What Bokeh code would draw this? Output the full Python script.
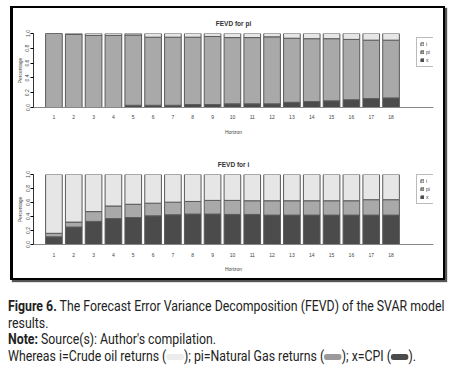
from bokeh.plotting import figure
from bokeh.models import Range1d, FixedTicker, Legend, LegendItem, Div, ColumnDataSource, PrintfTickFormatter
from bokeh.layouts import column
from bokeh.embed import file_html
from bokeh.resources import INLINE

horizon = list(range(1, 19))
y_ticks = [0.0, 0.2, 0.4, 0.6, 0.8, 1.0]

# FEVD for pi
pi_x = [0.0, 0.0, 0.0, 0.0, 0.03, 0.03, 0.03, 0.04, 0.04, 0.05, 0.05, 0.05, 0.07, 0.08, 0.09, 0.105, 0.12, 0.13]
pi_pi = [1.0, 0.987, 0.975, 0.975, 0.95, 0.92, 0.92, 0.91, 0.92, 0.895, 0.895, 0.905, 0.866, 0.85, 0.84, 0.815, 0.79, 0.78]
pi_i = [0.0, 0.013, 0.025, 0.025, 0.02, 0.05, 0.05, 0.05, 0.04, 0.055, 0.055, 0.045, 0.064, 0.07, 0.07, 0.08, 0.09, 0.09]

# FEVD for i
i_x = [0.11, 0.25, 0.33, 0.37, 0.385, 0.41, 0.425, 0.435, 0.435, 0.43, 0.43, 0.42, 0.42, 0.42, 0.42, 0.42, 0.42, 0.42]
i_pi = [0.05, 0.07, 0.14, 0.18, 0.19, 0.18, 0.18, 0.18, 0.195, 0.20, 0.195, 0.205, 0.205, 0.205, 0.205, 0.205, 0.22, 0.22]
i_i = [0.84, 0.68, 0.53, 0.45, 0.425, 0.41, 0.395, 0.385, 0.37, 0.37, 0.375, 0.375, 0.375, 0.375, 0.375, 0.375, 0.36, 0.36]

series = ["x", "pi", "i"]
legend_order = ["i", "pi", "x"]
COL = {"x": "#4b4b4b", "pi": "#a9a9a9", "i": "#e6e6e6"}
FONT = "Liberation Sans"


def panel(title, xs, pis, iss, h, top, bottom, lab_standoff, ax_standoff):
    src = ColumnDataSource(dict(h=horizon, x=xs, pi=pis, i=iss))
    p = figure(width=430, height=h, output_backend="svg", toolbar_location=None,
               x_range=Range1d(-0.03, 20.14), y_range=Range1d(0, 1),
               min_border_left=18, min_border_right=10, min_border_top=top,
               min_border_bottom=bottom, background_fill_color="white",
               border_fill_color="white", outline_line_color=None)
    rs = p.vbar_stack(series, x="h", width=0.84, source=src,
                      fill_color=[COL[s] for s in series], line_color="#5a5a5a", line_width=1)
    p.title.text = title
    p.title.align = "center"
    p.title.text_font = FONT
    p.title.text_font_size = "6.5px"
    p.title.text_font_style = "bold"
    p.title.text_color = "#333333"
    p.title.standoff = 14
    p.grid.visible = False

    ya = p.yaxis[0]
    ya.ticker = FixedTicker(ticks=y_ticks)
    ya.formatter = PrintfTickFormatter(format="%.1f")
    ya.major_label_orientation = "vertical"
    ya.major_label_text_font_size = "5px"
    ya.major_label_text_font = FONT
    ya.major_label_text_color = "#444444"
    ya.major_label_standoff = 1
    ya.major_tick_out = 3
    ya.major_tick_in = 0
    ya.minor_tick_line_color = None
    ya.minor_tick_out = 0
    ya.axis_label = "Percentage"
    ya.axis_label_text_font_size = "5px"
    ya.axis_label_text_font = FONT
    ya.axis_label_text_color = "#444444"
    ya.axis_label_text_font_style = "normal"
    ya.axis_label_standoff = 0
    ya.axis_line_color = "#333333"

    xa = p.xaxis[0]
    xa.ticker = FixedTicker(ticks=horizon)
    xa.major_tick_line_color = None
    xa.minor_tick_line_color = None
    xa.major_tick_out = 0
    xa.major_tick_in = 0
    xa.minor_tick_out = 0
    xa.major_label_text_font_size = "5px"
    xa.major_label_text_font = FONT
    xa.major_label_text_color = "#444444"
    xa.major_label_standoff = lab_standoff
    xa.axis_line_color = "#888888"
    xa.axis_label = "Horizon"
    xa.axis_label_text_font_size = "5px"
    xa.axis_label_text_font = FONT
    xa.axis_label_text_color = "#444444"
    xa.axis_label_text_font_style = "normal"
    xa.axis_label_standoff = ax_standoff

    rmap = dict(zip(series, rs))
    leg = Legend(items=[LegendItem(label=s, renderers=[rmap[s]]) for s in legend_order],
                 location=(383, 40), label_text_font_size="5px", label_text_font=FONT,
                 glyph_width=4, glyph_height=4, label_height=6, label_width=4,
                 label_standoff=2, spacing=2, padding=3, margin=0,
                 border_line_color="#777777", background_fill_alpha=1)
    p.add_layout(leg, "center")
    return p


p1 = panel("FEVD for pi", pi_x, pi_pi, pi_i, 143, 25, 44, 7, 7)
p2 = panel("FEVD for i", i_x, i_pi, i_i, 127, 20, 34, 8, 6)

box = column(p1, p2, margin=(6, 0, 0, 10),
             styles={"border": "2px solid #000", "border-left": "3px solid #000",
                     "box-shadow": "2px 2px 1px #555"})

sw = "display:inline-block;width:20px;height:6px;border-radius:3px;vertical-align:middle;background:%s"
caption_html = (
    "<div style=\"font-family:Roboto,sans-serif;font-size:14px;line-height:16.5px;color:#222;"
    "white-space:nowrap;transform:scaleX(0.88);transform-origin:0 0\">"
    "<b>Figure 6.</b> The Forecast Error Variance Decomposition (FEVD) of the SVAR model<br>"
    "results.<br>"
    "<b>Note:</b> Source(s): Author's compilation.<br>"
    "Whereas i=Crude oil returns (<span style=\"" + sw % "#ececec" + "\"></span>); "
    "pi=Natural Gas returns (<span style=\"" + sw % "#9a9a9a" + "\"></span>); "
    "x=CPI (<span style=\"" + sw % "#4b4b4b" + "\"></span>)."
    "</div>"
)
caption = Div(text=caption_html, width=440, height=66, margin=(18, 0, 0, 8))

page = column(box, caption)
open("out.html", "w").write(file_html(page, INLINE))
